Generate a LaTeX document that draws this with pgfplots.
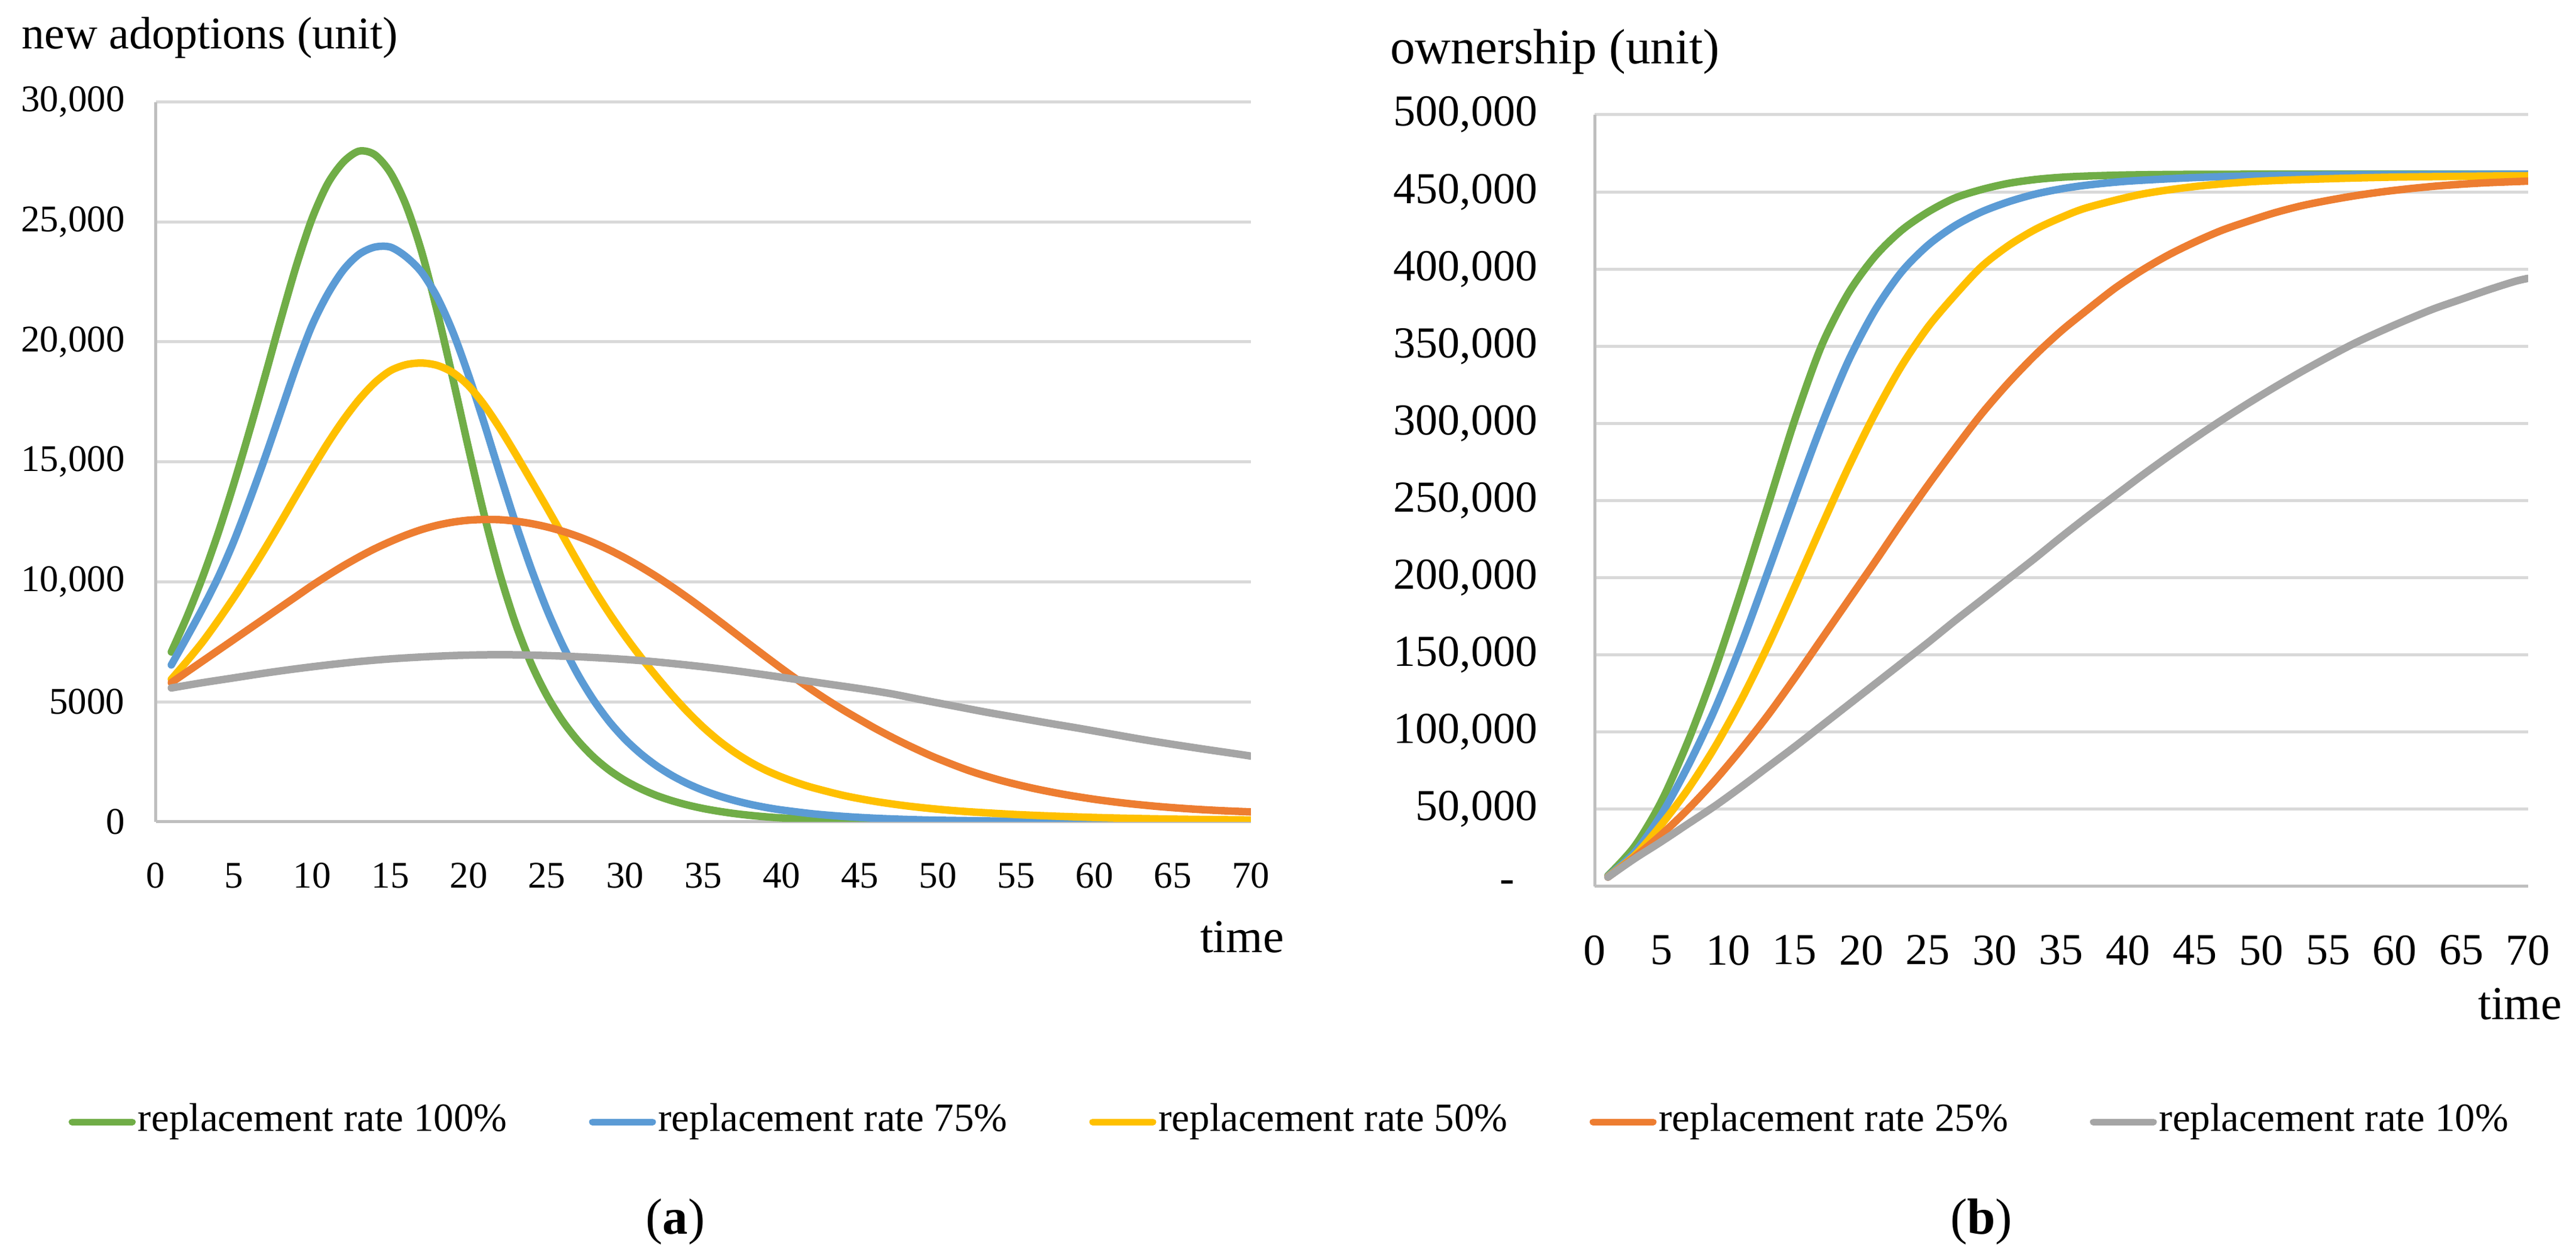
\documentclass[border=0pt]{standalone}
\usepackage{fontspec}
\setmainfont{Liberation Serif}
\usepackage{pgfplots}
\pgfplotsset{compat=1.18}

\definecolor{rgreen}{HTML}{70AD47}
\definecolor{rblue}{HTML}{5B9BD5}
\definecolor{ryellow}{HTML}{FFC000}
\definecolor{rorange}{HTML}{ED7D31}
\definecolor{rgray}{HTML}{A5A5A5}
\definecolor{gridc}{HTML}{D9D9D9}
\definecolor{axisc}{HTML}{BFBFBF}

\newcommand{\fs}[1]{\fontsize{#1pt}{#1pt}\selectfont}

\pgfplotsset{
  excel/.style={
    scale only axis, anchor=south west,
    xmin=0, xmax=70, ymin=0,
    xtick={0,5,...,70},
    ymajorgrids, grid style={draw=gridc, line width=0.5pt},
    axis x line*=bottom, axis y line*=left,
    axis line style={-, draw=axisc, line width=0.5pt},
    major tick length=0pt,
    scaled y ticks=false,
    /pgf/number format/assume math mode=true,
    tick label style={inner sep=0pt},
    every axis plot/.append style={line width=1.25pt, line join=round, line cap=round, smooth, no markers},
  },
}

\begin{document}
\begin{tikzpicture}
\useasboundingbox (0,0) rectangle (431pt,-210.3pt);

% (a) new adoptions
\begin{axis}[excel,
    at={(26.05pt,-137.5pt)}, width=183.25pt, height=120.45pt,
    ymax=30000, ytick={0,5000,...,30000},
    yticklabels={0,5000,{10,000},{15,000},{20,000},{25,000},{30,000}},
    tick label style={font=\fs{6.3}},
    yticklabel style={xshift=-5pt},
    xticklabel style={yshift=-6.7pt},
    legend columns=5,
    legend image code/.code={\draw[#1, line width=1.1pt, line cap=round] (0pt,0pt) -- (10.1pt,0pt);},
    legend style={at={(-0.0805,-0.4168)}, anchor=west, draw=none, fill=none,
        inner sep=0pt, font=\fs{6.7}, nodes={inner sep=0.4pt},
        /tikz/every even column/.append style={column sep=13.3pt}},
    legend cell align=left,
]
\addplot[rgreen] coordinates {
 (1,7080)(2,8550)(3,10200)(4,12050)(5,14100)(6,16300)(7,18600)(8,20950)(9,23200)(10,25150)
 (11,26600)(12,27500)(13,27950)(14,27800)(15,27050)(16,25700)(17,23750)(18,21250)(19,18450)(20,15550)
 (21,12780)(22,10320)(23,8260)(24,6590)(25,5265)(26,4210)(27,3370)(28,2690)(29,2150)(30,1720)
 (31,1380)(32,1100)(33,880)(34,700)(35,555)(36,440)(37,345)(38,270)(39,210)(40,163)
 (42,97)(44,57)(46,33)(48,19)(50,11)(55,3)(60,1)(70,0)};
\addlegendentry{replacement rate 100\%}
\addplot[rblue] coordinates {
 (1,6540)(2,7700)(3,8900)(4,10200)(5,11700)(6,13400)(7,15200)(8,17100)(9,19000)(10,20700)
 (11,22000)(12,23000)(13,23650)(14,23950)(15,23950)(16,23550)(17,22900)(18,21850)(19,20400)(20,18600)
 (21,16600)(22,14500)(23,12450)(24,10550)(25,8850)(26,7380)(27,6120)(28,5060)(29,4170)(30,3440)
 (31,2840)(32,2340)(33,1930)(34,1590)(35,1310)(36,1080)(37,890)(38,730)(39,600)(40,495)
 (42,335)(44,225)(46,150)(48,100)(50,67)(55,25)(60,9)(70,1)};
\addlegendentry{replacement rate 75\%}
\addplot[ryellow] coordinates {
 (1,5940)(2,6700)(3,7500)(4,8400)(5,9350)(6,10350)(7,11400)(8,12500)(9,13620)(10,14720)
 (11,15780)(12,16750)(13,17600)(14,18300)(15,18800)(16,19050)(17,19120)(18,19020)(19,18720)(20,18170)
 (21,17370)(22,16400)(23,15330)(24,14220)(25,13100)(26,11950)(27,10800)(28,9700)(29,8680)(30,7740)
 (31,6870)(32,6060)(33,5290)(34,4580)(35,3940)(36,3380)(37,2900)(38,2490)(39,2150)(40,1870)
 (41,1630)(42,1425)(44,1095)(46,850)(48,665)(50,525)(52,420)(55,305)(58,225)(61,165)(64,125)(67,97)(70,78)};
\addlegendentry{replacement rate 50\%}
\addplot[rorange] coordinates {
 (1,5800)(2,6250)(3,6700)(4,7150)(5,7600)(6,8050)(7,8500)(8,8950)(9,9400)(10,9850)
 (11,10270)(12,10670)(13,11040)(14,11380)(15,11680)(16,11950)(17,12180)(18,12360)(19,12490)(20,12570)
 (21,12600)(22,12590)(23,12530)(24,12430)(25,12290)(26,12110)(27,11890)(28,11630)(29,11330)(30,10995)
 (31,10625)(32,10225)(33,9795)(34,9340)(35,8865)(36,8375)(37,7875)(38,7375)(39,6880)(40,6395)
 (41,5925)(42,5475)(43,5045)(44,4640)(45,4260)(46,3890)(47,3545)(48,3220)(49,2915)(50,2630)
 (52,2130)(54,1730)(56,1410)(58,1150)(60,940)(62,775)(64,645)(66,545)(68,470)(70,415)};
\addlegendentry{replacement rate 25\%}
\addplot[rgray] coordinates {
 (1,5580)(3,5800)(5,6000)(7,6200)(9,6380)(11,6540)(13,6680)(15,6790)(17,6870)(19,6930)
 (21,6960)(23,6960)(25,6930)(27,6880)(29,6810)(31,6720)(33,6600)(35,6460)(37,6300)(39,6120)
 (41,5930)(43,5740)(45,5550)(47,5340)(49,5080)(51,4830)(53,4580)(55,4350)(57,4120)(59,3900)
 (61,3670)(63,3440)(65,3230)(67,3030)(69,2840)(70,2740)};
\addlegendentry{replacement rate 10\%}
\end{axis}

% (b) ownership
\begin{axis}[excel,
    at={(266.8pt,-148.3pt)}, width=156.2pt, height=129.1pt,
    ymax=500000, ytick={0,50000,...,500000},
    yticklabels={{-\rule{3.8pt}{0pt}},{50,000},{100,000},{150,000},{200,000},{250,000},{300,000},{350,000},{400,000},{450,000},{500,000}},
    tick label style={font=\fs{7.4}},
    yticklabel style={xshift=-9.4pt},
    xticklabel style={yshift=-8pt},
]
\addplot[rgreen] coordinates {
 (1,7000)(3,26000)(5,55000)(7,94000)(9,140000)(11,192000)(13,247000)(15,302000)(17,350000)(19,384000)
 (21,408000)(23,425000)(25,437000)(27,446000)(29,451500)(31,455500)(33,458000)(35,459500)(37,460300)
 (40,461000)(45,461400)(55,461500)(70,461500)};
\addplot[rblue] coordinates {
 (1,6700)(3,22000)(5,46500)(7,78000)(9,114500)(11,157000)(13,204000)(15,252000)(17,298500)(19,340000)
 (21,373000)(23,398000)(25,415500)(27,428000)(29,437000)(31,443500)(33,448500)(35,452000)(37,454500)
 (40,457000)(45,459300)(50,460500)(55,461000)(70,461500)};
\addplot[ryellow] coordinates {
 (1,6300)(3,20000)(5,40000)(7,63000)(9,90000)(11,121000)(13,156000)(15,194000)(17,233000)(19,271000)
 (21,306000)(23,337000)(25,362500)(27,383000)(29,401500)(31,415000)(33,425500)(35,433500)(37,440000)
 (41,448500)(45,453500)(49,456500)(53,458000)(60,459600)(70,460500)};
\addplot[rorange] coordinates {
 (1,6000)(3,19000)(5,33500)(7,50000)(9,68500)(11,89000)(13,111000)(15,135000)(17,160000)(19,185000)
 (21,210000)(23,235500)(25,260000)(27,283500)(29,306000)(31,326000)(33,344000)(35,360000)(37,374000)
 (39,387500)(41,399000)(43,409000)(45,417500)(47,425000)(49,431000)(51,436500)(53,441000)(55,444500)
 (57,447500)(59,450000)(61,452000)(63,453700)(65,455000)(67,456000)(70,457000)};
\addplot[rgray] coordinates {
 (1,6000)(3,18000)(5,29000)(7,40500)(9,52000)(11,64500)(13,77500)(15,90500)(17,104000)(19,117500)
 (21,131000)(23,144500)(25,158000)(27,172000)(29,185500)(31,199000)(33,212500)(35,226500)(37,240000)
 (39,253000)(41,266000)(43,278500)(45,290500)(47,302000)(49,313000)(51,323500)(53,333500)(55,343000)
 (57,352000)(59,360000)(61,367500)(63,374500)(65,380500)(67,386500)(69,392000)(70,394000)};
\end{axis}

\node[anchor=west, font=\fs{7.6}, inner sep=0pt] at (3.5pt,-6.3pt) {new adoptions (unit)};
\node[anchor=west, font=\fs{8.3}, inner sep=0pt] at (232.4pt,-8.7pt) {ownership (unit)};
\node[anchor=west, font=\fs{7.9}, inner sep=0pt] at (200.6pt,-156.8pt) {time};
\node[anchor=west, font=\fs{7.9}, inner sep=0pt] at (414.4pt,-168.0pt) {time};
\node[font=\fs{8.5}, inner sep=0pt] at (113pt,-204.4pt) {(\textbf{a})};
\node[font=\fs{8.5}, inner sep=0pt] at (331.5pt,-204.4pt) {(\textbf{b})};
\end{tikzpicture}
\end{document}
